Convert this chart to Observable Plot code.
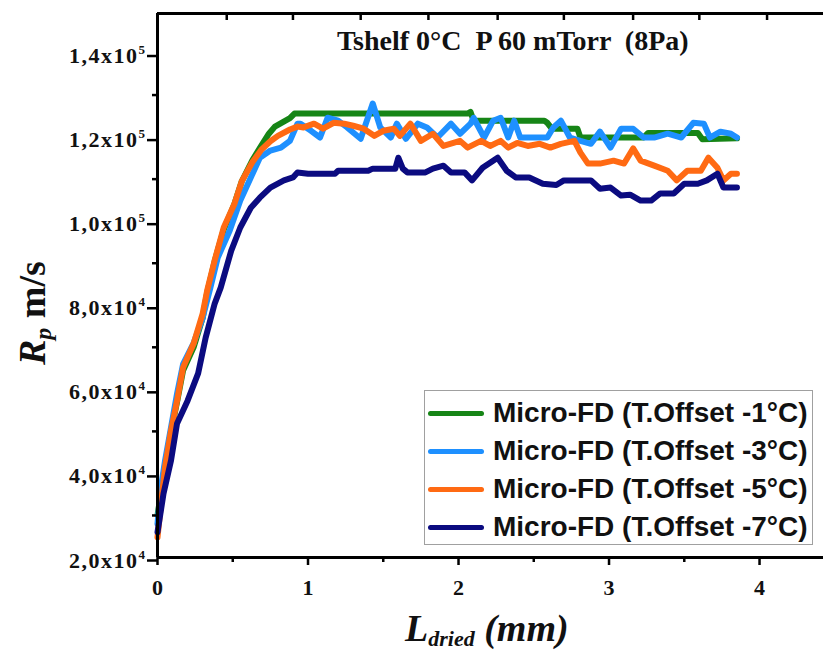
<!DOCTYPE html>
<html>
<head>
<meta charset="utf-8">
<script src="https://cdn.jsdelivr.net/npm/d3@7"></script>
<script src="https://cdn.jsdelivr.net/npm/@observablehq/plot@0.6"></script>
<style>
  body { margin: 0; background: #fff; }
  #wrap { position: relative; width: 823px; height: 653px; overflow: hidden; }
  #legend { position: absolute; left: 424px; top: 390px; width: 387px; height: 150px;
            border: 1.5px solid #a0a0a0; background: #fff; padding-top: 3px; box-sizing: content-box; }
  .row { height: 38px; display: flex; align-items: center; font-family: "Liberation Sans", Arial, sans-serif;
         font-weight: bold; font-size: 28px; color: #111; white-space: nowrap; }
  .sw { display: inline-block; width: 56px; height: 5px; border-radius: 3px; margin-left: 3px; margin-right: 9px; }
</style>
</head>
<body>
<div id="wrap"></div>
<script>
// ---- data ----
const seriesNames = ["Micro-FD (T.Offset -1°C)", "Micro-FD (T.Offset -3°C)", "Micro-FD (T.Offset -5°C)", "Micro-FD (T.Offset -7°C)"];
const seriesColors = ["#168516", "#1e90ff", "#ff6a13", "#0b0b80"];

const green = [[0.00,30000],[0.03,37000],[0.05,42000],[0.09,50000],[0.13,57000],[0.17,64500],[0.24,70000],[0.30,77000],[0.33,83000],[0.38,90500],[0.44,98000],[0.51,104000],[0.56,109500],[0.63,114500],[0.69,118000],[0.74,120800],[0.78,122500],[0.83,123500],[0.88,124500],[0.91,125600],[1.30,125600],[1.70,125600],[2.06,125600],[2.08,126000],[2.10,123900],[2.57,123900],[2.59,123400],[2.62,122000],[2.79,122000],[2.81,119900],[3.23,119900],[3.26,121000],[3.59,121000],[3.62,119500],[3.85,119700]];

const blue = [[0.00,28000],[0.02,36000],[0.05,43000],[0.09,51000],[0.13,59000],[0.17,66000],[0.24,71000],[0.30,77000],[0.35,84000],[0.40,91300],[0.48,97800],[0.55,104900],[0.62,110400],[0.68,115100],[0.75,116800],[0.82,117500],[0.88,119100],[0.93,123200],[0.95,123200],[1.02,121500],[1.08,119900],[1.13,124600],[1.20,123900],[1.26,122300],[1.35,119600],[1.43,128000],[1.48,122300],[1.55,119900],[1.59,123200],[1.65,119600],[1.73,123200],[1.79,122300],[1.86,119900],[1.95,123200],[2.01,120800],[2.08,123200],[2.10,124600],[2.17,119900],[2.23,123900],[2.28,124600],[2.33,119900],[2.37,123900],[2.41,119900],[2.59,119900],[2.63,122300],[2.68,123900],[2.74,119900],[2.81,119100],[2.88,118400],[2.94,121300],[3.01,117500],[3.08,122000],[3.16,122000],[3.23,119900],[3.30,119900],[3.39,120800],[3.48,119900],[3.56,123400],[3.63,123200],[3.67,119900],[3.74,121300],[3.81,120800],[3.85,119900]];

const orange = [[0.00,24800],[0.03,35000],[0.05,41400],[0.09,50200],[0.13,57300],[0.17,65200],[0.24,70900],[0.30,78000],[0.33,83500],[0.38,90700],[0.44,98500],[0.51,104000],[0.56,109500],[0.63,114000],[0.69,117000],[0.75,119000],[0.80,120300],[0.88,121800],[0.93,122500],[0.97,122300],[1.04,123200],[1.10,122000],[1.17,123400],[1.24,123200],[1.30,122700],[1.37,122000],[1.44,120300],[1.50,121500],[1.57,122000],[1.61,120300],[1.68,123200],[1.75,119100],[1.83,120800],[1.90,117900],[2.01,119100],[2.06,117500],[2.15,119100],[2.21,117900],[2.28,119100],[2.33,117500],[2.39,118600],[2.46,117900],[2.54,118400],[2.61,117500],[2.68,118400],[2.77,119100],[2.81,116300],[2.86,113700],[2.94,113700],[3.03,114400],[3.10,113700],[3.16,117300],[3.21,114400],[3.30,113200],[3.39,112000],[3.45,109700],[3.52,112000],[3.61,112000],[3.66,115100],[3.72,112700],[3.76,109700],[3.81,111300],[3.85,111300]];

const navy = [[0.00,26000],[0.04,35200],[0.09,43100],[0.13,51900],[0.20,57300],[0.27,63800],[0.32,72300],[0.38,80400],[0.42,84200],[0.49,93000],[0.55,98500],[0.62,103200],[0.68,105600],[0.75,108000],[0.84,109700],[0.90,110400],[0.93,111600],[1.00,111300],[1.18,111300],[1.20,112000],[1.40,112000],[1.43,112500],[1.58,112500],[1.60,115100],[1.63,112500],[1.66,111600],[1.78,111600],[1.83,112500],[1.90,113200],[1.95,111600],[2.04,111600],[2.09,109700],[2.16,112700],[2.26,115100],[2.32,112000],[2.38,110400],[2.47,110400],[2.56,108900],[2.65,108600],[2.70,109700],[2.88,109700],[2.94,107700],[3.01,108000],[3.08,106100],[3.14,106300],[3.21,104900],[3.28,104900],[3.34,106600],[3.43,106600],[3.50,108900],[3.59,108900],[3.65,109700],[3.72,111300],[3.76,108000],[3.85,108000]];

const xMajor = [0, 1, 2, 3, 4];
const xMinor = [0.5, 1.5, 2.5, 3.5];
const xTop = [0.46, 0.90, 1.35, 1.80, 2.26, 2.70, 3.16, 3.60, 4.05];
const yMajor = [20000, 40000, 60000, 80000, 100000, 120000, 140000];
const yTickLabels = ["2,0x10|4", "4,0x10|4", "6,0x10|4", "8,0x10|4", "1,0x10|5", "1,2x10|5", "1,4x10|5"];
const yMinor = [30000, 50000, 70000, 90000, 110000, 130000];
const titleText = "Tshelf 0°C  P 60 mTorr  (8Pa)";

const allSeries = [green, blue, orange, navy];
const serif = "'Liberation Serif', 'Times New Roman', serif";

const yDomain = [20000, 149400];
const plotH = 653 - 13 - 96;
const topTickLen = 7 * (yDomain[1] - yDomain[0]) / plotH; // 7px expressed in y units

const lineMarks = allSeries.map((s, i) => Plot.line(s, {
  x: d => d[0], y: d => d[1], stroke: seriesColors[i], strokeWidth: 6,
  strokeLinejoin: "round", strokeLinecap: "round"
}));

const chart = Plot.plot({
  width: 823, height: 653,
  marginLeft: 157, marginRight: 0, marginTop: 13, marginBottom: 96,
  x: { domain: [0, 4.425], label: null },
  y: { domain: yDomain, label: null },
  style: { background: "#fff", overflow: "visible" },
  marks: [
    ...lineMarks,
    Plot.ruleX([0], { strokeWidth: 3, stroke: "#000" }),
    Plot.ruleY([yDomain[0]], { strokeWidth: 3, stroke: "#000" }),
    Plot.ruleY([yDomain[1]], { strokeWidth: 3, stroke: "#000" }),
    Plot.ruleX(xTop, { x: d => d, y1: yDomain[1], y2: yDomain[1] - topTickLen, strokeWidth: 2.5, stroke: "#000" }),
    Plot.axisX(xMajor, { anchor: "bottom", tickSize: 8, tickPadding: 14, strokeWidth: 2.5,
      tickFormat: d => String(d), fontSize: 22, fontWeight: "bold", fontFamily: serif, fill: "#111" }),
    Plot.axisX(xMinor, { anchor: "bottom", tickSize: 5, strokeWidth: 2.5, tickFormat: () => "" }),
    Plot.axisY(yMajor, { anchor: "left", tickSize: 10, tickPadding: 1, strokeWidth: 2.5,
      tickFormat: d => yTickLabels[yMajor.indexOf(d)], dy: 3,
      fontSize: 22, fontWeight: "bold", fontFamily: serif, fill: "#111" }),
    Plot.axisY(yMinor, { anchor: "left", tickSize: 5, strokeWidth: 2.5, tickFormat: () => "" })
  ]
});

const svg = d3.select(chart);
// superscripts on y tick labels
svg.selectAll('g[aria-label="y-axis tick label"] text').each(function() {
  const t = this.textContent;
  if (!t.includes("|")) return;
  const [base, exp] = t.split("|");
  const sel = d3.select(this);
  sel.text(null).style("letter-spacing", "1.5px");
  sel.append("tspan").text(base);
  sel.append("tspan").attr("dy", -9).attr("font-size", 13).text(exp);
});

// title inside plot
svg.append("text").attr("x", 337).attr("y", 50).attr("text-anchor", "start")
  .attr("font-family", serif).attr("font-weight", "bold").attr("font-size", 28)
  .style("white-space", "pre").attr("fill", "#111").text(titleText);

// x axis label
const xl = svg.append("text").attr("x", 405).attr("y", 641).attr("text-anchor", "start")
  .attr("font-family", serif).attr("font-weight", "bold").attr("font-style", "italic")
  .attr("font-size", 38).attr("fill", "#111").style("white-space", "pre");
xl.append("tspan").text("L");
xl.append("tspan").attr("font-size", 22).attr("dy", 5).text("dried");
xl.append("tspan").attr("dy", -5).text(" (mm)");

// y axis label
const yl = svg.append("text").attr("transform", "translate(45,365) rotate(-90)").attr("text-anchor", "start")
  .attr("font-family", serif).attr("font-weight", "bold")
  .attr("font-size", 38).attr("fill", "#111").style("white-space", "pre");
yl.append("tspan").attr("font-style", "italic").text("R");
yl.append("tspan").attr("font-style", "italic").attr("font-size", 24).attr("dy", 6).text("p");
yl.append("tspan").attr("dy", -6).text(" m/s");

const wrap = document.getElementById("wrap");
wrap.appendChild(chart);

// legend
const legend = document.createElement("div");
legend.id = "legend";
seriesNames.forEach((name, i) => {
  const row = document.createElement("div");
  row.className = "row";
  const sw = document.createElement("span");
  sw.className = "sw";
  sw.style.background = seriesColors[i];
  row.appendChild(sw);
  const tx = document.createElement("span");
  tx.textContent = name;
  row.appendChild(tx);
  legend.appendChild(row);
});
wrap.appendChild(legend);
</script>
</body>
</html>
